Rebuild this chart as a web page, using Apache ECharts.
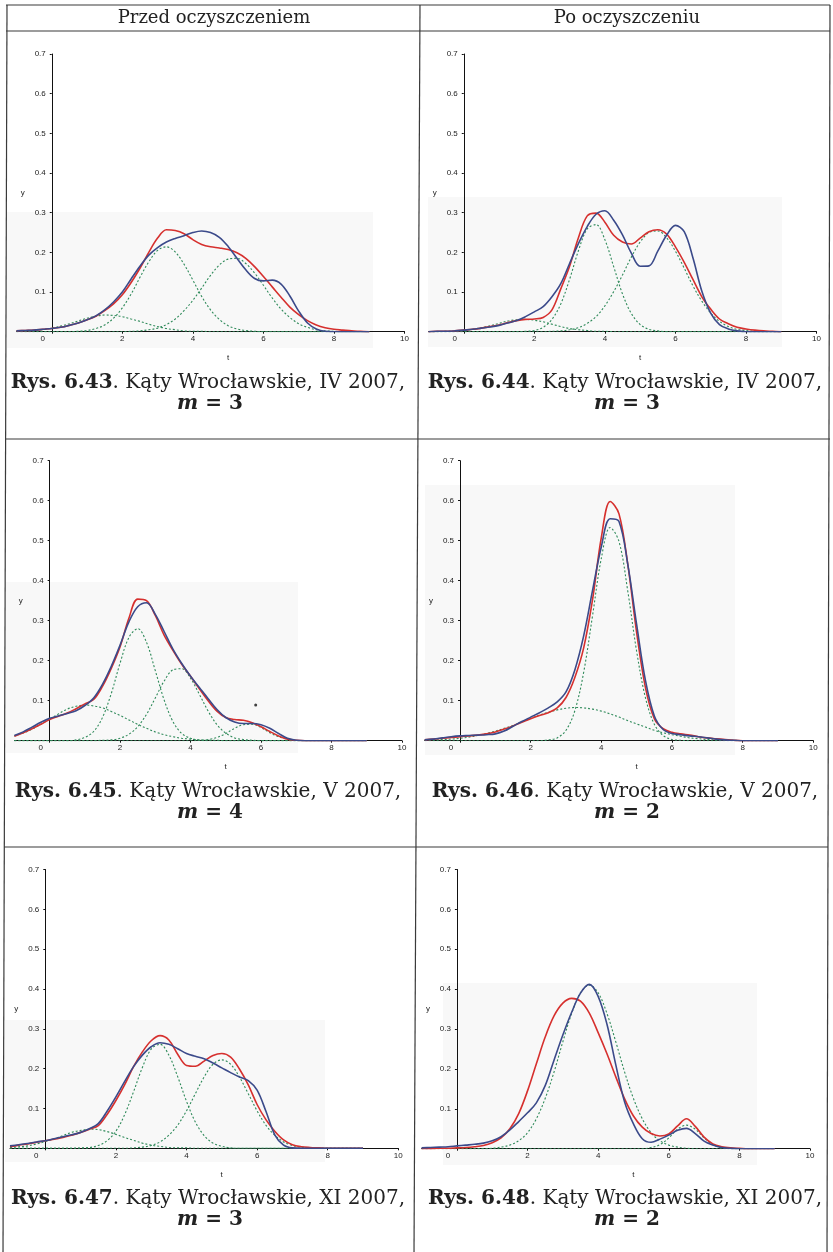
<!DOCTYPE html>
<html>
<head>
<meta charset="utf-8">
<script src="https://cdn.jsdelivr.net/npm/echarts@6.0.0/dist/echarts.min.js"></script>
<style>
  html, body { margin: 0; padding: 0; background: #ffffff; }
  #c { width: 833px; height: 1252px; }
</style>
</head>
<body>
<div id="c"></div>
<script>
// Sample positions t shared by every curve (step 0.25)
const T = [-1,-0.75,-0.5,-0.25,0,0.25,0.5,0.75,1,1.25,1.5,1.75,2,2.25,2.5,2.75,3,3.25,3.5,3.75,4,4.25,4.5,4.75,5,5.25,5.5,5.75,6,6.25,6.5,6.75,7,7.25,7.5,7.75,8,8.25,8.5,8.75,9];
const X_TICKS = [0, 2, 4, 6, 8, 10];
const Y_TICKS = [0.1, 0.2, 0.3, 0.4, 0.5, 0.6, 0.7];

const HEADERS = ['Przed oczyszczeniem', 'Po oczyszczeniu'];
const FIGS = ['6.43', '6.44', '6.45', '6.46', '6.47', '6.48'];
const PLACE = 'Kąty Wrocławskie';
const PERIODS = ['IV 2007', 'IV 2007', 'V 2007', 'V 2007', 'XI 2007', 'XI 2007'];
const M = [3, 3, 4, 2, 3, 2];

// Rys. 6.43 — IV 2007, before cleaning, m = 3
const P43_RED  = [0.002,0.003,0.004,0.006,0.008,0.011,0.016,0.022,0.030,0.039,0.053,0.070,0.093,0.124,0.160,0.200,0.236,0.257,0.255,0.247,0.232,0.220,0.214,0.211,0.207,0.199,0.185,0.164,0.139,0.113,0.087,0.062,0.043,0.028,0.017,0.010,0.006,0.004,0.002,0.001,0.000];
const P43_BLUE = [0.002,0.003,0.004,0.006,0.008,0.011,0.016,0.022,0.030,0.040,0.055,0.075,0.100,0.133,0.165,0.193,0.212,0.226,0.235,0.242,0.250,0.254,0.250,0.238,0.215,0.185,0.156,0.134,0.128,0.130,0.120,0.090,0.052,0.022,0.007,0.001,0,0,0,0,0];
const P43_C1   = [0.001,0.001,0.003,0.005,0.009,0.014,0.020,0.027,0.034,0.039,0.042,0.041,0.038,0.032,0.026,0.019,0.013,0.008,0.005,0.002,0.001,0.001,0,0,0,0,0,0,0,0,0,0,0,0,0,0,0,0,0,0,0];
const P43_C2   = [0,0,0,0,0,0,0.000,0.001,0.003,0.008,0.017,0.034,0.060,0.095,0.137,0.176,0.205,0.214,0.201,0.170,0.130,0.089,0.055,0.031,0.015,0.007,0.003,0.001,0,0,0,0,0,0,0,0,0,0,0,0,0];
const P43_C3   = [0,0,0,0,0,0,0,0,0,0,0,0,0.000,0.001,0.002,0.005,0.009,0.018,0.032,0.053,0.079,0.110,0.142,0.168,0.183,0.185,0.172,0.148,0.117,0.085,0.057,0.036,0.020,0.011,0.005,0.002,0.001,0.000,0,0,0];

// Rys. 6.44 — IV 2007, after cleaning, m = 3
const P44_RED  = [0.000,0.001,0.001,0.002,0.004,0.006,0.009,0.013,0.017,0.023,0.028,0.031,0.032,0.036,0.055,0.108,0.165,0.237,0.292,0.299,0.276,0.243,0.226,0.221,0.236,0.252,0.257,0.246,0.214,0.175,0.131,0.088,0.057,0.032,0.020,0.011,0.007,0.004,0.002,0.001,0.000];
const P44_BLUE = [0.000,0.001,0.001,0.002,0.004,0.006,0.009,0.012,0.016,0.022,0.028,0.038,0.050,0.063,0.088,0.121,0.172,0.222,0.265,0.296,0.305,0.281,0.244,0.198,0.165,0.166,0.203,0.243,0.268,0.252,0.185,0.102,0.047,0.018,0.007,0.002,0,0,0,0,0];
const P44_C1   = [0.000,0.000,0.001,0.002,0.003,0.006,0.010,0.015,0.021,0.027,0.030,0.031,0.029,0.025,0.019,0.013,0.008,0.005,0.003,0.001,0.001,0,0,0,0,0,0,0,0,0,0,0,0,0,0,0,0,0,0,0,0];
const P44_C2   = [0,0,0,0,0,0,0,0,0,0,0.000,0.001,0.003,0.011,0.031,0.070,0.132,0.204,0.259,0.270,0.232,0.164,0.095,0.046,0.018,0.006,0.002,0.000,0,0,0,0,0,0,0,0,0,0,0,0,0];
const P44_C3   = [0,0,0,0,0,0,0,0,0,0,0,0,0.000,0.000,0.001,0.002,0.005,0.010,0.021,0.038,0.065,0.101,0.143,0.188,0.226,0.250,0.254,0.237,0.203,0.160,0.115,0.077,0.047,0.026,0.013,0.006,0.003,0.001,0.000,0,0];

// Rys. 6.45 — V 2007, before cleaning, m = 4
const P45_RED  = [0.011,0.020,0.030,0.041,0.053,0.061,0.069,0.080,0.092,0.103,0.136,0.181,0.235,0.306,0.354,0.350,0.313,0.264,0.226,0.191,0.161,0.130,0.100,0.074,0.058,0.053,0.051,0.045,0.035,0.023,0.012,0.004,0.001,0,0,0,0,0,0,0,0];
const P45_BLUE = [0.013,0.022,0.034,0.046,0.056,0.062,0.068,0.075,0.088,0.107,0.141,0.186,0.239,0.297,0.335,0.345,0.316,0.273,0.229,0.193,0.161,0.133,0.105,0.078,0.058,0.047,0.043,0.043,0.040,0.031,0.018,0.006,0.001,0,0,0,0,0,0,0,0];
const P45_C1   = [0.012,0.019,0.029,0.041,0.054,0.067,0.079,0.086,0.089,0.087,0.082,0.073,0.063,0.052,0.041,0.031,0.022,0.015,0.010,0.006,0.004,0.002,0.001,0.001,0.000,0,0,0,0,0,0,0,0,0,0,0,0,0,0,0,0];
const P45_C2   = [0,0,0,0,0,0.000,0.000,0.002,0.008,0.023,0.058,0.118,0.194,0.258,0.280,0.246,0.175,0.102,0.048,0.018,0.006,0.001,0.000,0,0,0,0,0,0,0,0,0,0,0,0,0,0,0,0,0,0];
const P45_C3   = [0,0,0,0,0,0,0,0,0,0,0.001,0.002,0.006,0.016,0.035,0.066,0.107,0.149,0.177,0.180,0.156,0.116,0.074,0.040,0.019,0.007,0.003,0.001,0.000,0,0,0,0,0,0,0,0,0,0,0,0];
const P45_C4   = [0,0,0,0,0,0,0,0,0,0,0,0,0,0,0,0,0,0,0,0,0.000,0.001,0.003,0.008,0.018,0.031,0.040,0.041,0.033,0.020,0.010,0.004,0.001,0.000,0,0,0,0,0,0,0];
const P45_DOT  = [[5.85, 0.089]];

// Rys. 6.46 — V 2007, after cleaning, m = 2
const P46_RED  = [0.002,0.004,0.006,0.008,0.010,0.012,0.014,0.017,0.022,0.029,0.037,0.046,0.055,0.063,0.070,0.082,0.108,0.158,0.232,0.352,0.508,0.598,0.567,0.440,0.270,0.132,0.055,0.030,0.021,0.017,0.014,0.010,0.007,0.005,0.003,0.001,0,0,0,0,0];
const P46_BLUE = [0.002,0.004,0.007,0.010,0.012,0.013,0.014,0.015,0.017,0.024,0.036,0.048,0.059,0.070,0.082,0.097,0.122,0.177,0.262,0.375,0.485,0.555,0.548,0.440,0.290,0.150,0.062,0.028,0.018,0.015,0.012,0.010,0.007,0.004,0.002,0.001,0,0,0,0,0];
const P46_C1   = [0,0,0,0,0,0,0,0,0,0,0,0,0,0.000,0.002,0.007,0.026,0.075,0.171,0.312,0.456,0.533,0.498,0.373,0.223,0.107,0.041,0.013,0.003,0.001,0.000,0,0,0,0,0,0,0,0,0,0];
const P46_C2   = [0.001,0.002,0.003,0.004,0.006,0.009,0.013,0.018,0.024,0.031,0.038,0.047,0.056,0.064,0.071,0.077,0.081,0.083,0.082,0.079,0.074,0.067,0.059,0.050,0.042,0.034,0.026,0.020,0.015,0.011,0.007,0.005,0.003,0.002,0.001,0.001,0.000,0,0,0,0];

// Rys. 6.47 — XI 2007, before cleaning, m = 3
const P47_RED  = [0.004,0.008,0.011,0.015,0.019,0.023,0.027,0.033,0.040,0.048,0.057,0.085,0.120,0.160,0.205,0.242,0.270,0.283,0.272,0.236,0.208,0.206,0.219,0.233,0.238,0.229,0.199,0.159,0.110,0.072,0.043,0.021,0.009,0.004,0.002,0.001,0,0,0,0,0];
const P47_BLUE = [0.006,0.009,0.012,0.016,0.019,0.024,0.029,0.034,0.040,0.049,0.062,0.093,0.129,0.168,0.205,0.234,0.255,0.265,0.261,0.250,0.238,0.231,0.225,0.214,0.202,0.190,0.179,0.170,0.146,0.093,0.034,0.008,0.001,0,0,0,0,0,0,0,0];
const P47_C1   = [0.002,0.004,0.006,0.011,0.017,0.024,0.032,0.040,0.045,0.048,0.047,0.042,0.035,0.027,0.020,0.013,0.008,0.005,0.002,0.001,0.001,0.000,0,0,0,0,0,0,0,0,0,0,0,0,0,0,0,0,0,0,0];
const P47_C2   = [0,0,0,0,0,0,0,0.000,0.001,0.002,0.007,0.019,0.043,0.085,0.142,0.203,0.249,0.261,0.234,0.180,0.118,0.066,0.032,0.013,0.005,0.001,0.000,0,0,0,0,0,0,0,0,0,0,0,0,0,0];
const P47_C3   = [0,0,0,0,0,0,0,0,0,0,0,0,0,0.000,0.001,0.003,0.007,0.016,0.033,0.058,0.094,0.137,0.179,0.211,0.222,0.211,0.179,0.137,0.094,0.058,0.033,0.016,0.007,0.003,0.001,0.000,0,0,0,0,0];

// Rys. 6.48 — XI 2007, after cleaning, m = 2
const P48_RED  = [0.000,0.000,0.001,0.001,0.002,0.003,0.005,0.008,0.015,0.027,0.050,0.088,0.145,0.213,0.280,0.333,0.365,0.377,0.370,0.340,0.291,0.238,0.180,0.125,0.082,0.054,0.038,0.032,0.037,0.057,0.075,0.056,0.029,0.012,0.005,0.002,0.001,0,0,0,0];
const P48_BLUE = [0.002,0.003,0.004,0.005,0.007,0.009,0.011,0.014,0.020,0.030,0.047,0.068,0.090,0.115,0.158,0.222,0.285,0.342,0.390,0.412,0.382,0.312,0.210,0.117,0.062,0.025,0.016,0.024,0.034,0.046,0.051,0.038,0.019,0.009,0.003,0.001,0,0,0,0,0];
const P48_C1   = [0,0,0,0,0,0,0.000,0.000,0.001,0.004,0.009,0.020,0.040,0.075,0.126,0.192,0.268,0.339,0.391,0.410,0.391,0.339,0.268,0.192,0.126,0.075,0.040,0.020,0.009,0.004,0.001,0.000,0.000,0,0,0,0,0,0,0,0];
const P48_C2   = [0,0,0,0,0,0,0,0,0,0,0,0,0,0,0,0,0,0,0,0,0,0,0,0,0.000,0.000,0.003,0.010,0.027,0.049,0.059,0.049,0.027,0.010,0.003,0.000,0,0,0,0,0];

const PANELS = [
  { red: P43_RED, blue: P43_BLUE, comps: [P43_C1, P43_C2, P43_C3] },
  { red: P44_RED, blue: P44_BLUE, comps: [P44_C1, P44_C2, P44_C3] },
  { red: P45_RED, blue: P45_BLUE, comps: [P45_C1, P45_C2, P45_C3, P45_C4], dots: P45_DOT },
  { red: P46_RED, blue: P46_BLUE, comps: [P46_C1, P46_C2] },
  { red: P47_RED, blue: P47_BLUE, comps: [P47_C1, P47_C2, P47_C3] },
  { red: P48_RED, blue: P48_BLUE, comps: [P48_C1, P48_C2] }
];

const X_MIN = -1, X_MAX = 10;

// Page geometry: plot boxes (x from -1 to 10, y from 0 to 0.7), caption anchors
const LAYOUT = [
  { left: 16.5,  top: 54,    width: 388,   height: 277.7, cx: 208, capY: 383 },
  { left: 428.5, top: 54,    width: 388,   height: 277.7, cx: 625, capY: 383 },
  { left: 14.4,  top: 460.7, width: 387.5, height: 280,   cx: 208, capY: 792 },
  { left: 424.7, top: 460.7, width: 388.6, height: 280,   cx: 625, capY: 792 },
  { left: 10,    top: 869.5, width: 388.3, height: 278.8, cx: 208, capY: 1199 },
  { left: 421.6, top: 869.5, width: 388.4, height: 279.2, cx: 625, capY: 1199 }
];
// faint grey patches behind the lower part of each plot
const HAZE = [
  [7, 212, 366, 136], [428, 197, 354, 150],
  [6, 582, 292, 171], [425, 485, 310, 270],
  [5, 1020, 320, 142], [443, 983, 314, 182]
];

const RED = '#d6302e';
const BLUE = '#3b4a8a';
const GREEN = '#2f8a5a';
const INK = '#222222';
const AXIS_FONT = 'Liberation Sans, Arial, sans-serif';
const SERIF = 'DejaVu Serif, serif';
const CAP_SIZE = 20;

const toPairs = arr => T.map((t, k) => [t, arr[k]]);

const grids = [], xAxes = [], yAxes = [], series = [], graphic = [];

PANELS.forEach((p, i) => {
  const L = LAYOUT[i];
  grids.push({ left: L.left, top: L.top, width: L.width, height: L.height, outerBoundsMode: 'none', containLabel: false });

  xAxes.push({
    gridIndex: i, type: 'value', min: X_MIN, max: X_MAX,
    axisLine: { show: true, onZero: true, lineStyle: { color: '#111', width: 1 } },
    axisTick: { show: true, length: 2, customValues: X_TICKS, lineStyle: { color: '#111' } },
    axisLabel: {
      customValues: X_TICKS, margin: 3, fontSize: 8, fontFamily: AXIS_FONT, color: INK,
      formatter: v => (v === 0 ? '{z|0}' : String(v)),
      rich: { z: { padding: [0, 18, 0, 0], fontSize: 8, fontFamily: AXIS_FONT, color: INK } }
    },
    splitLine: { show: false },
    name: 't', nameLocation: 'middle', nameGap: 22,
    nameTextStyle: { fontSize: 8, fontFamily: AXIS_FONT, color: INK, padding: [0, 0, 0, 35] }
  });

  // the y axis stands at t = 0: shift it right from the grid edge by one unit of t
  const unit = L.width / (X_MAX - X_MIN);
  yAxes.push({
    gridIndex: i, type: 'value', min: 0, max: 0.7, position: 'left',
    offset: -unit * (0 - X_MIN),
    axisLine: { show: true, onZero: false, lineStyle: { color: '#111', width: 1 } },
    axisTick: { show: true, length: 2, customValues: Y_TICKS, lineStyle: { color: '#111' } },
    axisLabel: { customValues: Y_TICKS, margin: 6, fontSize: 8, fontFamily: AXIS_FONT, color: INK },
    splitLine: { show: false },
    name: 'y', nameLocation: 'middle', nameRotate: 0, nameGap: 27,
    nameTextStyle: { fontSize: 8, fontFamily: AXIS_FONT, color: INK }
  });

  p.comps.forEach(c => series.push({
    type: 'line', xAxisIndex: i, yAxisIndex: i, data: toPairs(c),
    showSymbol: false, smooth: 0.35, silent: true, z: 3,
    lineStyle: { color: GREEN, width: 1.1, type: [2, 2] }
  }));
  series.push({
    type: 'line', xAxisIndex: i, yAxisIndex: i, data: toPairs(p.red),
    showSymbol: false, smooth: 0.35, silent: true, z: 4,
    lineStyle: { color: RED, width: 1.6 }
  });
  series.push({
    type: 'line', xAxisIndex: i, yAxisIndex: i, data: toPairs(p.blue),
    showSymbol: false, smooth: 0.35, silent: true, z: 5,
    lineStyle: { color: BLUE, width: 1.6 }
  });
  if (p.dots) series.push({
    type: 'scatter', xAxisIndex: i, yAxisIndex: i, data: p.dots,
    symbolSize: 3, silent: true, z: 6, itemStyle: { color: '#111' }
  });

  // caption under the plot
  graphic.push({
    type: 'text', z: 100, silent: true,
    style: {
      text: '{b|Rys. ' + FIGS[i] + '}{r|. ' + PLACE + ', ' + PERIODS[i] + ',}',
      x: L.cx, y: L.capY, align: 'center', verticalAlign: 'middle',
      rich: {
        b: { fontFamily: SERIF, fontSize: CAP_SIZE, fontWeight: 'bold', fill: INK },
        r: { fontFamily: SERIF, fontSize: CAP_SIZE, fill: INK }
      }
    }
  });
  graphic.push({
    type: 'text', z: 100, silent: true,
    style: {
      text: '{i|m}{b| = ' + M[i] + '}',
      x: L.cx + 2, y: L.capY + 21, align: 'center', verticalAlign: 'middle',
      rich: {
        i: { fontFamily: SERIF, fontSize: CAP_SIZE, fontWeight: 'bold', fontStyle: 'italic', fill: INK },
        b: { fontFamily: SERIF, fontSize: CAP_SIZE, fontWeight: 'bold', fill: INK }
      }
    }
  });

  const h = HAZE[i];
  graphic.push({
    type: 'rect', z: -10, silent: true,
    shape: { x: h[0], y: h[1], width: h[2], height: h[3] },
    style: { fill: '#f8f8f8' }
  });
});

// column headers
graphic.push({
  type: 'text', z: 100, silent: true,
  style: { text: HEADERS[0], x: 214, y: 18, align: 'center', verticalAlign: 'middle', fontFamily: SERIF, fontSize: 18, fill: INK }
});
graphic.push({
  type: 'text', z: 100, silent: true,
  style: { text: HEADERS[1], x: 627, y: 18, align: 'center', verticalAlign: 'middle', fontFamily: SERIF, fontSize: 18, fill: INK }
});

// table rules
const RULES = [
  [6, 5, 830, 5], [6, 31, 830, 31], [6, 439, 830, 439], [4, 847, 828, 847],
  [7, 5, 3, 1252], [420, 5, 414, 1252], [830, 5, 827, 1252]
];
RULES.forEach(r => graphic.push({
  type: 'line', z: 90, silent: true,
  shape: { x1: r[0], y1: r[1], x2: r[2], y2: r[3] },
  style: { stroke: '#3a3a3a', lineWidth: 1.2 }
}));

const chart = echarts.init(document.getElementById('c'), null, { renderer: 'canvas', width: 833, height: 1252 });
chart.setOption({
  animation: false,
  backgroundColor: '#ffffff',
  grid: grids,
  xAxis: xAxes,
  yAxis: yAxes,
  series: series,
  graphic: graphic
});
</script>
</body>
</html>
